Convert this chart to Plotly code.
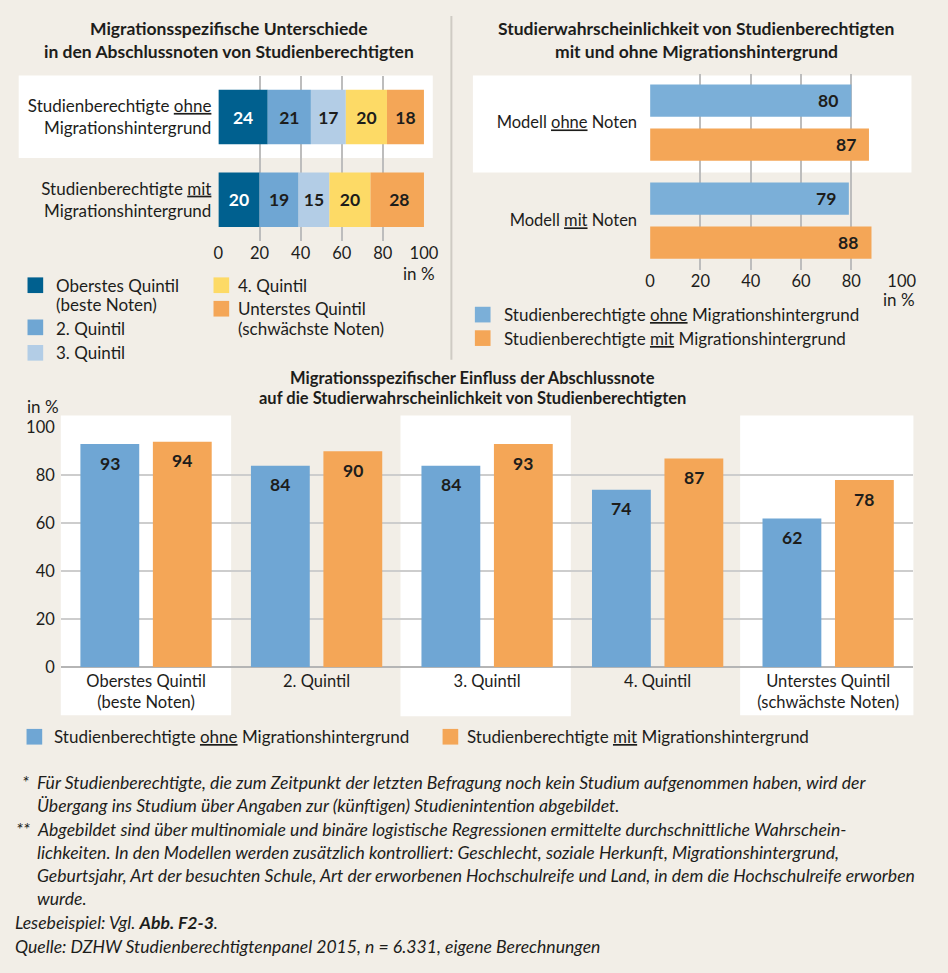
import numpy as np
import plotly.graph_objects as go

W, H = 948, 973
BG = "#F2EEE7"
FONT = "Lato"
TXT = "#1d1d1b"
GRID = "#BDBDBD"

# ---------------- data ----------------
# Chart 1: grade quintiles by migration background
groups1 = ["Studienberechtigte <u>ohne</u><br>Migrationshintergrund",
           "Studienberechtigte <u>mit</u><br>Migrationshintergrund"]
quintile_names = ["Oberstes Quintil", "2. Quintil", "3. Quintil", "4. Quintil", "Unterstes Quintil"]
q_ohne = [24, 21, 17, 20, 18]
q_mit = [20, 19, 15, 20, 28]

# Chart 2: study probability by model
models = ["Modell <u>ohne</u> Noten", "Modell <u>mit</u> Noten"]
m_ohne = [80, 79]
m_mit = [87, 88]

# Chart 3: study probability by quintile
quintiles3 = ["Oberstes Quintil<br>(beste Noten)", "2. Quintil", "3. Quintil", "4. Quintil",
              "Unterstes Quintil<br>(schwächste Noten)"]
s_ohne = [93, 84, 84, 74, 62]
s_mit = [94, 90, 93, 87, 78]

series_names = ["Studienberechtigte <u>ohne</u> Migrationshintergrund",
                "Studienberechtigte <u>mit</u> Migrationshintergrund"]
ticks = [0, 20, 40, 60, 80, 100]

# ---------------- styles ----------------
q_colors = ["#00608F", "#6FA6D3", "#B3CDE6", "#FDDA66", "#F4A657"]
q_text = ["white", TXT, TXT, TXT, TXT]
blue2 = "#7BAFD8"
blue3 = "#6FA6D4"
orange = "#F4A657"


def px(x):
    return x / W


def py(y):
    return 1 - y / H


fig = go.Figure()

# ---- chart 1 (stacked horizontal) ----
vals1 = np.array([q_ohne, q_mit])  # rows = groups
bases1 = np.hstack([np.zeros((2, 1)), np.cumsum(vals1, axis=1)[:, :-1]])
for k in range(len(quintile_names)):
    fig.add_trace(go.Bar(
        y=groups1, x=vals1[:, k], base=bases1[:, k], orientation="h",
        width=0.66, marker=dict(color=q_colors[k], line=dict(width=0)),
        name=quintile_names[k], text=[str(v) for v in vals1[:, k]],
        textposition="inside", insidetextanchor="middle",
        textfont=dict(family=FONT, size=17.5, color=q_text[k], weight="bold"),
        constraintext="none",
        xaxis="x", yaxis="y", showlegend=False, hoverinfo="skip"))

# ---- chart 2 (grouped horizontal) ----
bw2, off2 = 0.33, 0.39
for vals, col, off in [(m_ohne, blue2, -off2), (m_mit, orange, off2 - bw2)]:
    fig.add_trace(go.Bar(
        y=models, x=vals, orientation="h", width=bw2, offset=off,
        marker=dict(color=col, line=dict(width=0)),
        xaxis="x2", yaxis="y2", showlegend=False, hoverinfo="skip"))

# ---- chart 3 (grouped vertical) ----
bw3, off3 = 0.345, 0.385
for vals, col, off in [(s_ohne, blue3, -off3), (s_mit, orange, off3 - bw3)]:
    fig.add_trace(go.Bar(
        x=quintiles3, y=vals, width=bw3, offset=off,
        marker=dict(color=col, line=dict(width=0)),
        xaxis="x3", yaxis="y3", showlegend=False, hoverinfo="skip"))

ann = []
shapes = []
lab_font = dict(family=FONT, size=17.5, color=TXT, weight="bold")

# value labels chart 2
for i in range(len(models)):
    for vals, off in [(m_ohne, -off2), (m_mit, off2 - bw2)]:
        ann.append(dict(x=vals[i], y=i + off + bw2 / 2, xref="x2", yref="y2",
                        text=f"<b>{vals[i]}</b>", showarrow=False, xanchor="right",
                        yanchor="middle", xshift=-11, font=lab_font))
# value labels chart 3
for i in range(len(quintiles3)):
    for vals, off in [(s_ohne, -off3), (s_mit, off3 - bw3)]:
        ann.append(dict(x=i + off + bw3 / 2, y=vals[i], xref="x3", yref="y3",
                        text=f"<b>{vals[i]}</b>", showarrow=False, xanchor="center",
                        yanchor="middle", yshift=-19, font=lab_font))

# white bands
for (x0, y0, x1, y1) in [(14, 67, 437, 151), (478, 67, 926, 166),
                         (57, 414, 231, 720), (404, 414, 578, 721), (751, 414, 928, 720)]:
    shapes.append(dict(type="rect", xref="paper", yref="paper", x0=px(x0), x1=px(x1),
                       y0=py(y1), y1=py(y0), fillcolor="white", line=dict(width=0), layer="below"))
# separator
shapes.append(dict(type="line", xref="paper", yref="paper", x0=px(456), x1=px(456),
                   y0=py(357), y1=py(6), line=dict(color="#CFCBC4", width=2), layer="below"))

txt_font = dict(family=FONT, size=17, color=TXT)
title_font = dict(family=FONT, size=17.5, color=TXT)


def text_at(x, y, text, xanchor="left", yanchor="middle", font=txt_font, align="left"):
    ann.append(dict(x=px(x), y=py(y), xref="paper", yref="paper", text=text, showarrow=False,
                    xanchor=xanchor, yanchor=yanchor, font=font, align=align))


def square(x0, y0, x1, y1, color):
    shapes.append(dict(type="rect", xref="paper", yref="paper", x0=px(x0), x1=px(x1),
                       y0=py(y1), y1=py(y0), fillcolor=color, line=dict(width=0)))


# titles
text_at(229, 19, "<b>Migrationsspezifische Unterschiede</b>", xanchor="center", font=title_font)
text_at(229, 42, "<b>in den Abschlussnoten von Studienberechtigten</b>", xanchor="center", font=title_font)
text_at(706, 19, "<b>Studierwahrscheinlichkeit von Studienberechtigten</b>", xanchor="center", font=title_font)
text_at(706, 42, "<b>mit und ohne Migrationshintergrund</b>", xanchor="center", font=title_font)
t3_font = dict(family=FONT, size=16.5, color=TXT)
text_at(478, 376, "<b>Migrationsspezifischer Einfluss der Abschlussnote</b>", xanchor="center", font=t3_font)
text_at(478, 396, "<b>auf die Studierwahrscheinlichkeit von Studienberechtigten</b>", xanchor="center", font=t3_font)

# unit labels
text_at(441, 269, "in %", xanchor="right")
text_at(932, 296, "in %", xanchor="right")
text_at(20, 405, "in %", xanchor="left")

# legend chart 1
square(23, 273, 39, 289, q_colors[0])
text_at(50, 281, quintile_names[0])
text_at(50, 301, "(beste Noten)")
square(23, 316, 39, 332, q_colors[1])
text_at(50, 325, quintile_names[1])
square(23, 342, 39, 358, q_colors[2])
text_at(50, 350, quintile_names[2])
square(213, 273, 229, 289, q_colors[3])
text_at(236, 281, quintile_names[3])
square(213, 297, 229, 313, q_colors[4])
text_at(236, 305, quintile_names[4])
text_at(236, 325, "(schwächste Noten)")

# legend chart 2
square(480, 303, 496, 319, blue2)
text_at(508, 311, series_names[0])
square(480, 327, 496, 343, orange)
text_at(508, 335, series_names[1])

# legend chart 3
square(22, 734, 38, 750, blue3)
text_at(48, 742, series_names[0])
square(447, 734, 463, 750, orange)
text_at(470, 742, series_names[1])

# footnotes
fn_font = dict(family=FONT, size=17.6, color=TXT)
text_at(15, 789, "<i>*</i>", font=fn_font)
text_at(9, 837, "<i>**</i>", font=fn_font)
foot = [
    (31, 789, "Für Studienberechtigte, die zum Zeitpunkt der letzten Befragung noch kein Studium aufgenommen haben, wird der"),
    (31, 812, "Übergang ins Studium über Angaben zur (künftigen) Studienintention abgebildet."),
    (31, 837, "Abgebildet sind über multinomiale und binäre logistische Regressionen ermittelte durchschnittliche Wahrschein-"),
    (31, 860, "lichkeiten. In den Modellen werden zusätzlich kontrolliert: Geschlecht, soziale Herkunft, Migrationshintergrund,"),
    (31, 884, "Geburtsjahr, Art der besuchten Schule, Art der erworbenen Hochschulreife und Land, in dem die Hochschulreife erworben"),
    (31, 907, "wurde."),
    (8, 932, "Lesebeispiel: Vgl. <b>Abb. F2-3</b>."),
    (8, 956, "Quelle: DZHW Studienberechtigtenpanel 2015, n = 6.331, eigene Berechnungen"),
]
for x, y, t in foot:
    text_at(x, y, f"<i>{t}</i>", font=fn_font)

tick_font = dict(family=FONT, size=16.5, color=TXT)
cat_font = dict(family=FONT, size=17, color=TXT)

fig.update_layout(
    width=W, height=H, margin=dict(l=0, r=0, t=0, b=0),
    paper_bgcolor=BG, plot_bgcolor="rgba(0,0,0,0)",
    barmode="overlay", showlegend=False,
    font=dict(family=FONT, color=TXT),
    annotations=ann, shapes=shapes,
    xaxis=dict(domain=[px(218), px(428)], anchor="y", range=[0, 100], tickvals=ticks,
               showgrid=True, gridcolor=GRID, gridwidth=1.5, zeroline=False, showline=False,
               tickfont=tick_font, fixedrange=True),
    yaxis=dict(domain=[py(236), py(67)], anchor="x", type="category", range=[1.5, -0.5],
               showgrid=False, zeroline=False, showline=False, tickfont=cat_font,
               ticklabelstandoff=6, fixedrange=True),
    xaxis2=dict(domain=[px(659), px(916)], anchor="y2", range=[0, 100], tickvals=ticks,
                showgrid=True, gridcolor=GRID, gridwidth=1.5, zeroline=False, showline=False,
                tickfont=tick_font, fixedrange=True),
    yaxis2=dict(domain=[py(265), py(65)], anchor="x2", type="category", range=[1.5, -0.5],
                showgrid=False, zeroline=False, showline=False, tickfont=tick_font,
                ticklabelstandoff=12, fixedrange=True),
    xaxis3=dict(domain=[px(57), px(928)], anchor="y3", type="category", range=[-0.5, 4.5],
                showgrid=False, zeroline=False, showline=False, tickfont=tick_font,
                ticklabelstandoff=2, fixedrange=True),
    yaxis3=dict(domain=[py(671), py(426)], anchor="x3", range=[0, 100], tickvals=ticks,
                showgrid=True, gridcolor="#CDCDCD", gridwidth=2, zeroline=True,
                zerolinecolor="#B5B5B5", zerolinewidth=2, showline=False,
                tickfont=tick_font, ticklabelstandoff=5, fixedrange=True),
)

fig.write_html(
    "out.html",
    config={"displayModeBar": False},
    post_script="document.body.style.margin='0';document.body.style.padding='0';"
                "document.documentElement.style.overflow='hidden';document.body.style.overflow='hidden';",
)
